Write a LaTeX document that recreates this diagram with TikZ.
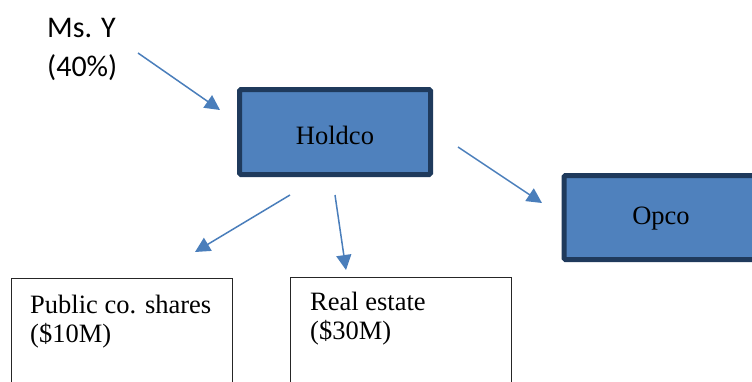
\documentclass[tikz,border=0pt]{standalone}
\usepackage{fontspec}
\setmainfont{Liberation Serif}
\newfontfamily\calibri{Carlito}
\usetikzlibrary{arrows.meta}
\definecolor{boxfill}{HTML}{4F81BD}
\definecolor{boxedge}{HTML}{1F3A5C}
\definecolor{arrowblue}{HTML}{4A7EBB}
\tikzset{
  entity/.style={draw=boxedge, fill=boxfill, line width=5pt, rounded corners=1.5pt,
    minimum width=191pt, minimum height=85pt, inner sep=0pt,
    font=\fontsize{26.5}{30}\selectfont},
  assetbox/.style={draw=black!85, line width=1.4pt, minimum width=221pt,
    minimum height=140pt, inner sep=0pt},
  assettext/.style={align=left, inner sep=0pt, font=\fontsize{26.5}{29.5}\selectfont},
  own/.style={draw=arrowblue, line width=1.5pt,
    -{Triangle[length=15pt, width=15pt, fill=arrowblue]}},
}
\begin{document}
\begin{tikzpicture}[x=1pt, y=1pt]
\useasboundingbox (0,0) rectangle (752,-381);
\clip (0,0) rectangle (752,-381);
% shareholder label (base anchor = last line)
\node[anchor=base west, inner sep=0pt, align=left,
  font=\calibri\fontsize{30}{39}\selectfont] (msy) at (47,-76) {Ms. Y\\(40\%)};
% entities
\node[entity] (holdco) at (335,-132) {\raisebox{-3pt}[\height][\depth]{Holdco}};
\node[entity, minimum width=194pt, minimum height=84pt] (opco) at (661,-217.5) {\raisebox{-1.5pt}[\height][\depth]{Opco}};
% asset boxes
\node[assetbox, anchor=north west] (pub) at (10.7,-277.7) {};
\node[assettext, anchor=base west] (pubtext) at (30,-342.5) {Public co. shares\\(\$10M)};
\node[assetbox, anchor=north west] (real) at (289.7,-276.7) {};
\node[assettext, anchor=base west] (realtext) at (310,-339.5) {Real estate\\(\$30M)};
% arrow ends
\coordinate (a1s) at (138,-53);  \coordinate (a1e) at (220,-110);
\coordinate (a2s) at (458,-147); \coordinate (a2e) at (542,-203);
\coordinate (a3s) at (290,-195); \coordinate (a3e) at (195,-252);
\coordinate (a4s) at (335,-195); \coordinate (a4e) at (346,-270);
\draw[own] (a1s) -- (a1e);
\draw[own] (a2s) -- (a2e);
\draw[own] (a3s) -- (a3e);
\draw[own] (a4s) -- (a4e);
\end{tikzpicture}
\end{document}
